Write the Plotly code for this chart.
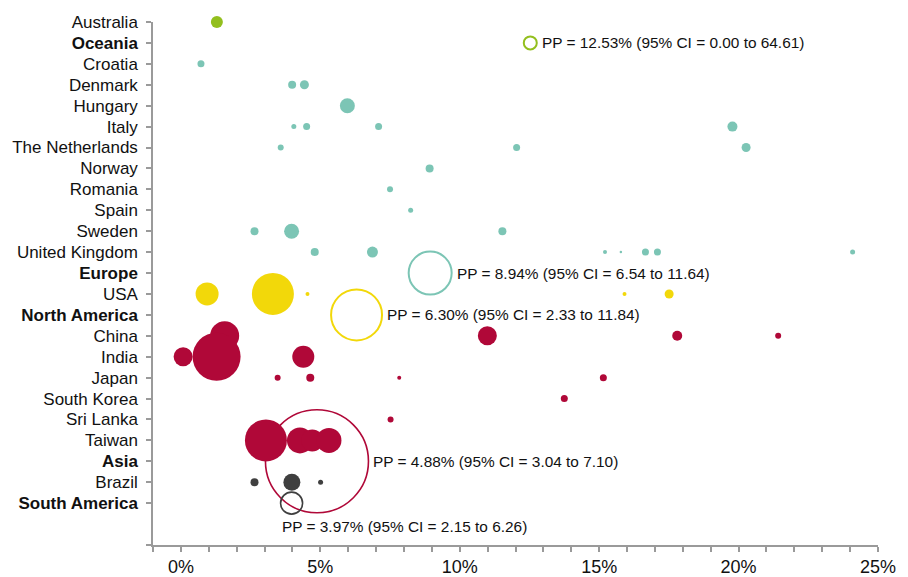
import plotly.graph_objects as go

# ---- rows (top to bottom) ----
rows = ["Australia", "Oceania", "Croatia", "Denmark", "Hungary", "Italy",
        "The Netherlands", "Norway", "Romania", "Spain", "Sweden",
        "United Kingdom", "Europe", "USA", "North America", "China", "India",
        "Japan", "South Korea", "Sri Lanka", "Taiwan", "Asia", "Brazil",
        "South America"]
bold_rows = ["Oceania", "Europe", "North America", "Asia", "South America"]

# ---- study-level prevalence (%) and relative weight (bubble diameter) ----
oceania_country = ["Australia"]
oceania_pp = [1.29]
oceania_wt = [12]

europe_country = ["Croatia", "Denmark", "Denmark", "Hungary",
                  "Italy", "Italy", "Italy", "Italy",
                  "The Netherlands", "The Netherlands", "The Netherlands",
                  "Norway", "Romania", "Spain",
                  "Sweden", "Sweden", "Sweden",
                  "United Kingdom", "United Kingdom", "United Kingdom",
                  "United Kingdom", "United Kingdom", "United Kingdom",
                  "United Kingdom"]
europe_pp = [0.72, 3.99, 4.43, 5.97,
             4.05, 4.51, 7.09, 19.78,
             3.58, 12.04, 20.27,
             8.92, 7.50, 8.24,
             2.64, 3.97, 11.53,
             4.80, 6.87, 15.21, 15.78, 16.66, 17.09, 24.09]
europe_wt = [7, 8, 9, 15,
             5, 7, 7, 10,
             6, 7, 9,
             8, 6, 5,
             8, 15, 8,
             8, 11, 4, 2.5, 7, 7, 5]

namerica_country = ["USA", "USA", "USA", "USA", "USA"]
namerica_pp = [0.94, 3.30, 4.54, 15.91, 17.51]
namerica_wt = [23, 42, 4, 4, 9]

asia_country = ["China", "China", "China", "China",
                "India", "India", "India",
                "Japan", "Japan", "Japan", "Japan",
                "South Korea", "Sri Lanka",
                "Taiwan", "Taiwan", "Taiwan", "Taiwan"]
asia_pp = [1.57, 10.99, 17.80, 21.42,
           0.08, 1.28, 4.39,
           3.47, 4.64, 7.83, 15.15,
           13.75, 7.52,
           3.05, 4.27, 4.71, 5.31]
asia_wt = [29, 19, 10, 6,
           19, 48, 22,
           6, 8, 4, 7,
           7, 6,
           42, 26, 22, 25]

samerica_country = ["Brazil", "Brazil", "Brazil"]
samerica_pp = [2.64, 3.98, 5.01]
samerica_wt = [8, 17, 5]

# ---- pooled estimates ----
pooled_region = ["Oceania", "Europe", "North America", "Asia", "South America"]
pooled_pp = [12.53, 8.94, 6.30, 4.88, 3.97]
pooled_lo = [0.00, 6.54, 2.33, 3.04, 2.15]
pooled_hi = [64.61, 11.64, 11.84, 7.10, 6.26]
pooled_wt = [13, 43, 51, 103, 22]

# ---- x-axis ticks ----
x_ticks = list(range(-1, 26))
x_labels = [f"{v}%" if v >= 0 and v % 5 == 0 else "" for v in x_ticks]

# ---- styles ----
colors = {"Oceania": "#93BF1E", "Europe": "#7CC5B5", "North America": "#F2D80A",
          "Asia": "#B00838", "South America": "#3F3F3F"}
pooled_line = {"Oceania": 2, "Europe": 2, "North America": 2,
               "Asia": 1.6, "South America": 1.6}
FONT = "Arial, 'Liberation Sans', sans-serif"

n = len(rows)
ypos = {r: n + 1 - i for i, r in enumerate(rows)}

fig = go.Figure()

# pooled open circles (drawn first, below study bubbles)
for reg, pp, wt in zip(pooled_region, pooled_pp, pooled_wt):
    fig.add_trace(go.Scatter(
        x=[pp], y=[ypos[reg]], mode="markers",
        marker=dict(size=wt, sizemode="diameter", color="rgba(0,0,0,0)",
                    line=dict(color=colors[reg], width=pooled_line[reg])),
        cliponaxis=False, showlegend=False, hoverinfo="skip"))

groups = [("Oceania", oceania_country, oceania_pp, oceania_wt),
          ("Europe", europe_country, europe_pp, europe_wt),
          ("North America", namerica_country, namerica_pp, namerica_wt),
          ("Asia", asia_country, asia_pp, asia_wt),
          ("South America", samerica_country, samerica_pp, samerica_wt)]
for reg, cs, pps, wts in groups:
    fig.add_trace(go.Scatter(
        x=pps, y=[ypos[c] for c in cs], mode="markers",
        marker=dict(size=wts, sizemode="diameter", color=colors[reg],
                    opacity=1, line=dict(width=0)),
        cliponaxis=False, showlegend=False))

# pooled labels
for reg, pp, lo, hi, wt in zip(pooled_region, pooled_pp, pooled_lo, pooled_hi, pooled_wt):
    txt = f"PP = {pp:.2f}% (95% CI = {lo:.2f} to {hi:.2f})"
    if reg == "South America":
        fig.add_annotation(x=pp, y=ypos[reg], text=txt, showarrow=False,
                           xanchor="left", yanchor="middle",
                           xshift=-wt / 2 - 1, yshift=-23,
                           font=dict(size=15.4, color="#111111", family=FONT))
    else:
        fig.add_annotation(x=pp, y=ypos[reg], text=txt, showarrow=False,
                           xanchor="left", yanchor="middle",
                           xshift=wt / 2 + 3, yshift=0,
                           font=dict(size=15.4, color="#111111", family=FONT))

ytickvals = [0] + [ypos[r] for r in rows]
yticktext = [""] + [f"<b>{r}</b>" if r in bold_rows else r for r in rows]

# page body has an 8px default margin, so the figure is sized to fit the window
fig.update_layout(
    width=900, height=569,
    margin=dict(l=145, r=30, t=14, b=32, autoexpand=False),
    paper_bgcolor="white", plot_bgcolor="white",
    font=dict(family=FONT, color="#111111"),
    xaxis=dict(range=[-1, 25], tickvals=x_ticks, ticktext=x_labels,
               automargin=False,
               showgrid=False, zeroline=False, showline=True,
               linecolor="#9a9a9a", linewidth=1.5,
               ticks="outside", ticklen=5, tickcolor="#9a9a9a", tickwidth=1.5,
               tickfont=dict(size=18, color="#111111", family=FONT)),
    yaxis=dict(range=[0, n + 1], tickvals=ytickvals, ticktext=yticktext,
               automargin=False,
               showgrid=False, zeroline=False, showline=True,
               linecolor="#9a9a9a", linewidth=1.5,
               ticks="outside", ticklen=5, tickcolor="#9a9a9a", tickwidth=1.5,
               ticklabelstandoff=5,
               tickfont=dict(size=17, color="#111111", family=FONT)),
)

fig.write_html("out.html")
